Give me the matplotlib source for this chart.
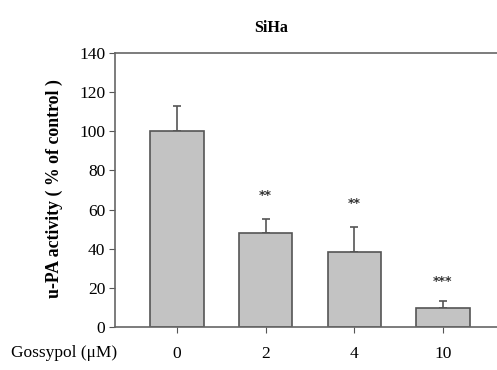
import numpy as np
import matplotlib.pyplot as plt

# Data
doses = ['0', '2', '4', '10']
activity = [100, 48, 38.3, 9.9]
errors = [13, 7, 12.6, 3.5]
stars = ['', '**', '**', '***']
star_y = [0, 64, 60, 20]

plt.rcParams['font.family'] = ['Liberation Serif', 'DejaVu Serif']

fig = plt.figure(figsize=(4.97, 3.70), dpi=100)
ax = fig.add_axes([0.2314, 0.1162, 0.7686, 0.7406])

x = np.arange(len(doses))
edge = '#555555'
ax.bar(x, activity, width=0.6, color='#c3c3c3', edgecolor=edge, linewidth=1.2, zorder=2)
ax.errorbar(x, activity, yerr=[np.zeros(len(errors)), errors], fmt='none',
            ecolor=edge, elinewidth=1.2, capsize=3, capthick=1.2, zorder=1)

for xi, s, sy in zip(x, stars, star_y):
    if s:
        ax.text(xi, sy, s, ha='center', va='bottom', fontsize=9, color='#333333',
                family='DejaVu Sans', fontweight='bold')

ax.set_xlim(-0.7, 3.61)
ax.set_ylim(0, 140)
ax.set_yticks(range(0, 141, 20))
ax.set_xticks(x)
ax.set_xticklabels(doses, fontsize=12.5)
ax.tick_params(axis='y', labelsize=12.5, length=4, color=edge, direction='out', pad=3)
ax.tick_params(axis='x', length=4, color=edge, direction='out', pad=10)
for side in ['left', 'bottom', 'top']:
    ax.spines[side].set_color('#666666')
    ax.spines[side].set_linewidth(1.2)
ax.spines['right'].set_visible(False)

ax.set_ylabel('u-PA activity ( % of control )', fontsize=12.8, fontweight='bold')
ax.yaxis.set_label_coords(-0.136, 0.505)
fig.text(0.545, 0.925, 'SiHa', ha='center', va='center', fontsize=11.5, fontweight='bold')
fig.text(0.022, 0.046, 'Gossypol (\u03bcM)', ha='left', va='center', fontsize=12.5)

fig.savefig('out.png', dpi=100, facecolor='white')
